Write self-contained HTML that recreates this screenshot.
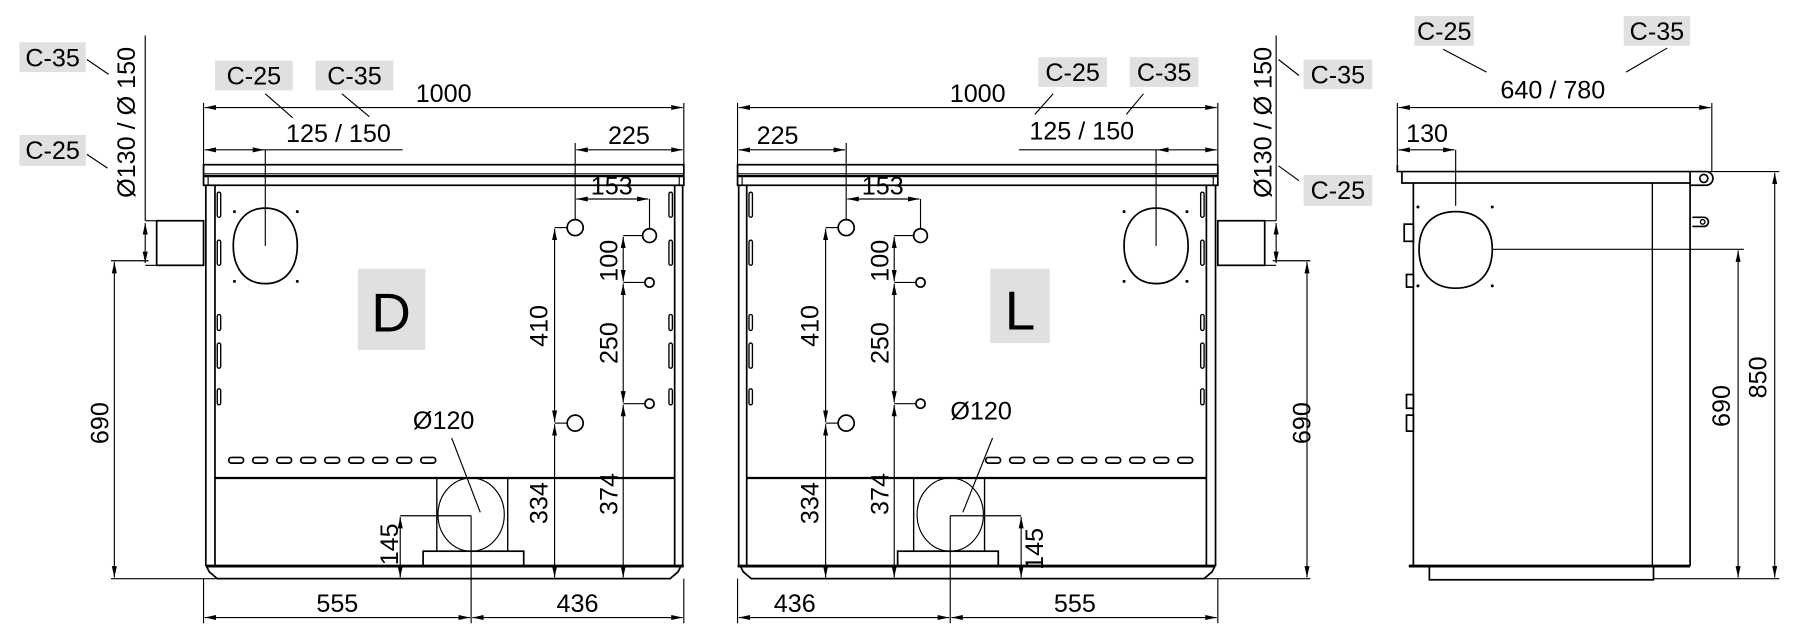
<!DOCTYPE html>
<html><head><meta charset="utf-8"><style>
html,body{margin:0;padding:0;background:#fff}
svg{display:block}
text{font-family:"Liberation Sans",sans-serif;fill:#000}
</style></head><body>
<svg width="1793" height="629" viewBox="0 0 1568 550" xmlns="http://www.w3.org/2000/svg">
<defs>
<marker id="a" viewBox="0 0 10 6" refX="10" refY="3" markerWidth="10" markerHeight="6" markerUnits="userSpaceOnUse" orient="auto-start-reverse"><path d="M0,0.8 L10,3 L0,5.2z" fill="#000"/></marker>
<g id="holes" fill="none" stroke="#000">
  <circle cx="503" cy="199" r="7" stroke-width="1.5"/><circle cx="503" cy="370" r="7" stroke-width="1.5"/>
  <circle cx="568" cy="206" r="6" stroke-width="1.5"/><circle cx="568" cy="247" r="4" stroke-width="1.5"/><circle cx="568" cy="353" r="4" stroke-width="1.5"/>
  <g stroke-width="1">
   <line x1="504" y1="174" x2="567" y2="174" marker-start="url(#a)" marker-end="url(#a)"/>
   <line x1="568" y1="174" x2="568" y2="200"/>
   <line x1="485" y1="199" x2="496" y2="199"/><line x1="485" y1="370" x2="496" y2="370"/>
   <line x1="485" y1="200" x2="485" y2="369" marker-start="url(#a)" marker-end="url(#a)"/>
   <line x1="485" y1="371" x2="485" y2="505" marker-start="url(#a)" marker-end="url(#a)"/>
   <line x1="545" y1="206" x2="562" y2="206"/><line x1="545" y1="247" x2="564" y2="247"/><line x1="545" y1="353" x2="564" y2="353"/>
   <line x1="545" y1="207" x2="545" y2="246" marker-start="url(#a)" marker-end="url(#a)"/>
   <line x1="545" y1="248" x2="545" y2="352" marker-start="url(#a)" marker-end="url(#a)"/>
   <line x1="545" y1="354" x2="545" y2="505" marker-start="url(#a)" marker-end="url(#a)"/>
  </g>
</g>
<g id="front" fill="none" stroke="#000">
  <rect x="178" y="144" width="420" height="18" stroke-width="1.5"/>
  <line x1="178" y1="152" x2="598" y2="152" stroke-width="1"/>
  <line x1="178" y1="154" x2="598" y2="154" stroke-width="2"/>
  <line x1="182" y1="154" x2="182" y2="162"/><line x1="594" y1="154" x2="594" y2="162"/>
  <line x1="180" y1="162" x2="180" y2="495" stroke-width="1.5"/>
  <line x1="188" y1="162" x2="188" y2="495" stroke-width="1.5"/>
  <line x1="590" y1="162" x2="590" y2="495" stroke-width="1.5"/>
  <line x1="597" y1="162" x2="597" y2="495" stroke-width="1.5"/>
  <g stroke-width="1.2">
   <rect x="190" y="168" width="3" height="22" rx="1.5"/><rect x="190" y="210" width="3" height="22" rx="1.5"/>
   <rect x="190" y="275" width="3" height="14" rx="1.5"/><rect x="190" y="300" width="3" height="22" rx="1.5"/>
   <rect x="190" y="340" width="3" height="14" rx="1.5"/>
   <rect x="585" y="168" width="3" height="22" rx="1.5"/><rect x="585" y="210" width="3" height="22" rx="1.5"/>
   <rect x="585" y="275" width="3" height="14" rx="1.5"/><rect x="585" y="300" width="3" height="22" rx="1.5"/>
   <rect x="585" y="340" width="3" height="14" rx="1.5"/>
  </g>
  <rect x="137" y="193" width="41" height="39" stroke-width="1.5"/>
  <line x1="127" y1="193" x2="137" y2="193"/><line x1="127" y1="232" x2="137" y2="232"/>
  <line x1="127" y1="31" x2="127" y2="193" stroke-width="1"/>
  <line x1="127" y1="195" x2="127" y2="230" stroke-width="1" marker-start="url(#a)" marker-end="url(#a)"/>
  <path d="M232,182 C250,182 260,196 260,215 C260,234 250,248 232,248 C214,248 204,234 204,215 C204,196 214,182 232,182z" stroke-width="1.5"/>
  <g fill="#000" stroke="none"><circle cx="205" cy="185" r="1.3"/><circle cx="260" cy="185" r="1.3"/><circle cx="205" cy="246" r="1.3"/><circle cx="260" cy="246" r="1.3"/></g>
  <g stroke-width="1.5">
   <rect x="200" y="400" width="13" height="5" rx="2.5"/><rect x="221" y="400" width="13" height="5" rx="2.5"/><rect x="242" y="400" width="13" height="5" rx="2.5"/>
   <rect x="263" y="400" width="13" height="5" rx="2.5"/><rect x="284" y="400" width="13" height="5" rx="2.5"/><rect x="305" y="400" width="13" height="5" rx="2.5"/>
   <rect x="326" y="400" width="13" height="5" rx="2.5"/><rect x="347" y="400" width="13" height="5" rx="2.5"/><rect x="368" y="400" width="13" height="5" rx="2.5"/>
  </g>
  <line x1="188" y1="418" x2="590" y2="418" stroke-width="2"/>
  <rect x="382" y="418" width="62" height="64" stroke-width="1.2"/>
  <ellipse cx="412" cy="450" rx="29" ry="32" stroke-width="1"/>
  <rect x="370" y="482" width="88" height="13" stroke-width="1.5"/>
  <line x1="180" y1="495" x2="598" y2="495" stroke-width="2.5"/>
  <path d="M181,496 L183,500 L190,506 L586,506 L593,500 L595,496" stroke-width="1.5"/>
  <g stroke-width="1">
   <line x1="178" y1="90" x2="178" y2="144"/><line x1="598" y1="90" x2="598" y2="144"/>
   <line x1="179" y1="94" x2="597" y2="94" marker-start="url(#a)" marker-end="url(#a)"/>
   <line x1="179" y1="131" x2="231" y2="131" marker-start="url(#a)" marker-end="url(#a)"/>
   <line x1="231" y1="131" x2="352" y2="131"/>
   <line x1="232" y1="131" x2="232" y2="215"/>
   <line x1="504" y1="131" x2="597" y2="131" marker-start="url(#a)" marker-end="url(#a)"/>
   <line x1="503" y1="125" x2="503" y2="192"/>
   <line x1="350" y1="451" x2="412" y2="451"/>
   <line x1="350" y1="452" x2="350" y2="505" marker-start="url(#a)" marker-end="url(#a)"/>
   <line x1="412" y1="451" x2="412" y2="545"/>
   <line x1="97" y1="228" x2="130" y2="228"/><line x1="97" y1="506" x2="190" y2="506"/>
   <line x1="100" y1="229" x2="100" y2="505" marker-start="url(#a)" marker-end="url(#a)"/>
   <line x1="178" y1="506" x2="178" y2="545"/><line x1="598" y1="506" x2="598" y2="545"/>
   <line x1="179" y1="540" x2="411" y2="540" marker-start="url(#a)" marker-end="url(#a)"/>
   <line x1="413" y1="540" x2="597" y2="540" marker-start="url(#a)" marker-end="url(#a)"/>
  </g>
</g>
</defs>

<g font-size="22">
<!-- ===== D view ===== -->
<use href="#front"/>
<use href="#holes"/>
<line x1="395" y1="383" x2="420" y2="448" stroke="#000" stroke-width="1"/>
<rect x="17" y="37" width="58" height="26" fill="#e0e0e0"/><text x="46" y="58" text-anchor="middle">C-35</text>
<rect x="17" y="118" width="58" height="27" fill="#e0e0e0"/><text x="46" y="139" text-anchor="middle">C-25</text>
<line x1="76" y1="52" x2="95" y2="65" stroke="#000"/><line x1="76" y1="135" x2="94" y2="147" stroke="#000"/>
<text transform="translate(118,107) rotate(-90)" text-anchor="middle">Ø130 / Ø 150</text>
<rect x="188" y="53" width="68" height="26" fill="#e0e0e0"/><text x="222" y="74" text-anchor="middle">C-25</text>
<rect x="276" y="53" width="68" height="26" fill="#e0e0e0"/><text x="310" y="74" text-anchor="middle">C-35</text>
<line x1="232" y1="82" x2="256" y2="103" stroke="#000"/><line x1="299" y1="82" x2="323" y2="102" stroke="#000"/>
<text x="388" y="89" text-anchor="middle">1000</text>
<text x="296" y="124" text-anchor="middle">125 / 150</text>
<text x="550" y="126" text-anchor="middle">225</text>
<text x="535" y="170" text-anchor="middle">153</text>
<rect x="313" y="235" width="59" height="71" fill="#e0e0e0"/><text x="342" y="290" text-anchor="middle" font-size="48">D</text>
<text x="388" y="375" text-anchor="middle">Ø120</text>
<text transform="translate(95,370) rotate(-90)" text-anchor="middle">690</text>
<text transform="translate(479,285) rotate(-90)" text-anchor="middle">410</text>
<text transform="translate(479,440) rotate(-90)" text-anchor="middle">334</text>
<text transform="translate(540,228) rotate(-90)" text-anchor="middle">100</text>
<text transform="translate(540,300) rotate(-90)" text-anchor="middle">250</text>
<text transform="translate(540,432) rotate(-90)" text-anchor="middle">374</text>
<text transform="translate(348,476) rotate(-90)" text-anchor="middle">145</text>
<text x="295" y="535" text-anchor="middle">555</text>
<text x="505" y="535" text-anchor="middle">436</text>

<!-- ===== L view ===== -->
<use href="#front" transform="translate(1243,0) scale(-1,1)"/>
<use href="#holes" transform="translate(237,0)"/>
<line x1="868" y1="383" x2="842" y2="448" stroke="#000" stroke-width="1"/>
<rect x="908" y="50" width="60" height="26" fill="#e0e0e0"/><text x="938" y="71" text-anchor="middle">C-25</text>
<rect x="988" y="50" width="60" height="26" fill="#e0e0e0"/><text x="1018" y="71" text-anchor="middle">C-35</text>
<line x1="921" y1="82" x2="905" y2="100" stroke="#000"/><line x1="1000" y1="82" x2="985" y2="100" stroke="#000"/>
<rect x="1140" y="52" width="60" height="26" fill="#e0e0e0"/><text x="1170" y="73" text-anchor="middle">C-35</text>
<rect x="1140" y="153" width="60" height="27" fill="#e0e0e0"/><text x="1170" y="174" text-anchor="middle">C-25</text>
<line x1="1118" y1="52" x2="1136" y2="66" stroke="#000"/><line x1="1118" y1="145" x2="1136" y2="158" stroke="#000"/>
<text transform="translate(1112,107) rotate(-90)" text-anchor="middle">Ø130 / Ø 150</text>
<text x="855" y="89" text-anchor="middle">1000</text>
<text x="946" y="122" text-anchor="middle">125 / 150</text>
<text x="680" y="126" text-anchor="middle">225</text>
<text x="772" y="170" text-anchor="middle">153</text>
<rect x="866" y="235" width="52" height="65" fill="#e0e0e0"/><text x="892" y="288" text-anchor="middle" font-size="48">L</text>
<text x="858" y="367" text-anchor="middle">Ø120</text>
<text transform="translate(1146,370) rotate(-90)" text-anchor="middle">690</text>
<text transform="translate(716,285) rotate(-90)" text-anchor="middle">410</text>
<text transform="translate(716,440) rotate(-90)" text-anchor="middle">334</text>
<text transform="translate(777,228) rotate(-90)" text-anchor="middle">100</text>
<text transform="translate(777,300) rotate(-90)" text-anchor="middle">250</text>
<text transform="translate(777,432) rotate(-90)" text-anchor="middle">374</text>
<text transform="translate(912,480) rotate(-90)" text-anchor="middle">145</text>
<text x="695" y="535" text-anchor="middle">436</text>
<text x="940" y="535" text-anchor="middle">555</text>

<!-- ===== Side view ===== -->
<g fill="none" stroke="#000">
  <path d="M1222,144 L1222,150 L1226,150 L1226,160 L1478,160 L1478,150 L1226,150" stroke-width="1.5"/>
  <path d="M1478,150 L1492,150 A6,6 0 0 1 1492,162 L1478,162" stroke-width="1.5"/>
  <circle cx="1490" cy="156" r="3.5" stroke-width="1.5"/>
  <line x1="1236" y1="160" x2="1236" y2="495" stroke-width="1.5"/>
  <line x1="1445" y1="160" x2="1445" y2="495" stroke-width="1.2"/>
  <line x1="1478" y1="160" x2="1478" y2="495" stroke-width="1.5"/>
  <line x1="1232" y1="495" x2="1478" y2="495" stroke-width="2.5"/>
  <rect x="1250" y="495" width="196" height="12" stroke-width="1.5"/>
  <path d="M1480,190 L1490,190 A4,4 0 0 1 1490,198 L1480,198" stroke-width="1.5"/>
  <circle cx="1489" cy="194" r="2" stroke-width="1.2"/>
  <rect x="1228" y="196" width="8" height="15" stroke-width="1.5"/>
  <rect x="1230" y="240" width="6" height="11" stroke-width="1.5"/>
  <rect x="1230" y="345" width="6" height="12" stroke-width="1.5"/>
  <rect x="1230" y="363" width="6" height="14" stroke-width="1.5"/>
  <path d="M1273,185 C1292,185 1305,196 1305,218 C1305,240 1292,252 1273,252 C1254,252 1241,240 1241,218 C1241,196 1254,185 1273,185z" stroke-width="1.5"/>
  <g stroke-width="1">
   <line x1="1222" y1="90" x2="1222" y2="144"/><line x1="1497" y1="90" x2="1497" y2="150"/>
   <line x1="1223" y1="94" x2="1496" y2="94" marker-start="url(#a)" marker-end="url(#a)"/>
   <line x1="1223" y1="131" x2="1272" y2="131" marker-start="url(#a)" marker-end="url(#a)"/>
   <line x1="1273" y1="131" x2="1273" y2="180"/>
   <line x1="1305" y1="218" x2="1525" y2="218"/>
   <line x1="1520" y1="219" x2="1520" y2="505" marker-start="url(#a)" marker-end="url(#a)"/>
   <line x1="1495" y1="150" x2="1556" y2="150"/>
   <line x1="1446" y1="506" x2="1556" y2="506"/>
   <line x1="1552" y1="151" x2="1552" y2="505" marker-start="url(#a)" marker-end="url(#a)"/>
   <line x1="1262" y1="43" x2="1300" y2="63"/><line x1="1458" y1="42" x2="1422" y2="63"/>
  </g>
</g>
<g fill="#000"><circle cx="1240" cy="181" r="1.3"/><circle cx="1305" cy="181" r="1.3"/><circle cx="1240" cy="250" r="1.3"/><circle cx="1305" cy="250" r="1.3"/></g>
<rect x="1237" y="14" width="52" height="26" fill="#e0e0e0"/><text x="1263" y="35" text-anchor="middle">C-25</text>
<rect x="1420" y="14" width="58" height="26" fill="#e0e0e0"/><text x="1449" y="35" text-anchor="middle">C-35</text>
<text x="1358" y="86" text-anchor="middle">640 / 780</text>
<text x="1248" y="124" text-anchor="middle">130</text>
<text transform="translate(1513,355) rotate(-90)" text-anchor="middle">690</text>
<text transform="translate(1545,330) rotate(-90)" text-anchor="middle">850</text>
</g>
</svg>
</body></html>
